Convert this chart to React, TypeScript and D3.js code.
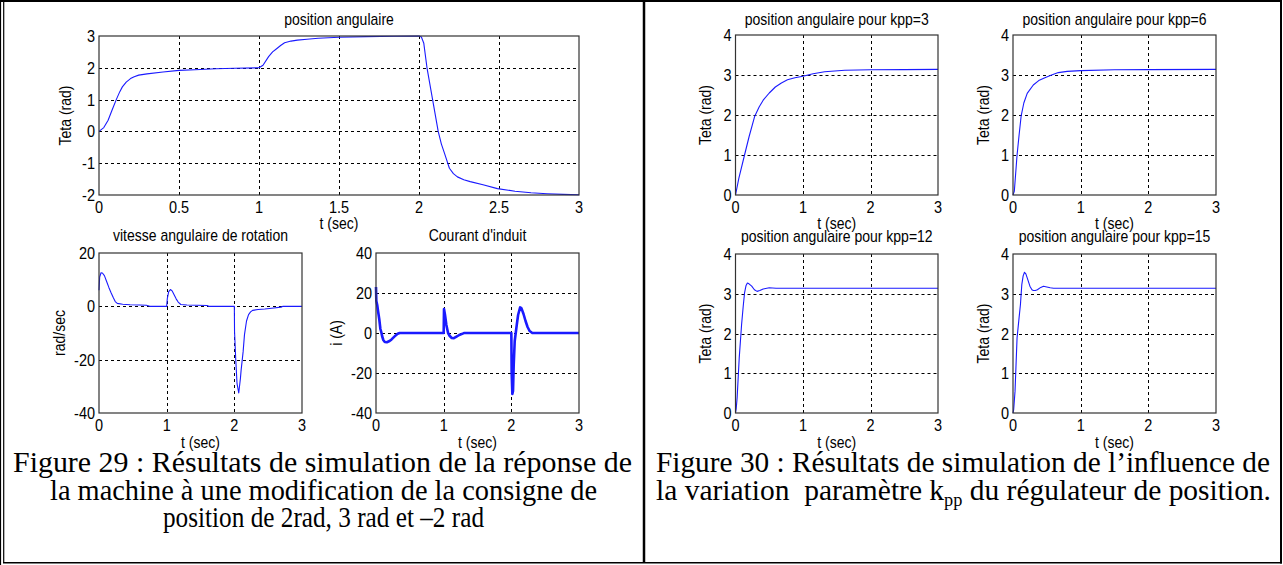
import React from 'react';
import * as d3 from 'd3';

const W = 1283;
const H = 565;

// ---- Figure 29 data ----
const posT = [0, 0.03, 0.057, 0.08, 0.108, 0.13, 0.146, 0.17, 0.197, 0.22, 0.248, 0.3, 0.4, 0.5, 0.6, 0.73, 0.85, 1.0, 1.025, 1.06, 1.085, 1.11, 1.135, 1.16, 1.2, 1.24, 1.3, 1.37, 1.5, 1.67, 1.85, 2.0, 2.015, 2.03, 2.05, 2.085, 2.12, 2.14, 2.16, 2.19, 2.215, 2.24, 2.28, 2.32, 2.4, 2.49, 2.6, 2.7, 2.8, 2.9, 3.0];
const posY = [0, 0.12, 0.35, 0.65, 1.0, 1.25, 1.4, 1.55, 1.66, 1.72, 1.77, 1.81, 1.87, 1.92, 1.94, 1.97, 1.985, 2.0, 2.08, 2.35, 2.5, 2.6, 2.7, 2.79, 2.84, 2.87, 2.9, 2.93, 2.96, 2.98, 2.99, 3.0, 2.97, 2.77, 2.0, 1.0, 0.0, -0.4, -0.7, -1.16, -1.33, -1.43, -1.52, -1.58, -1.68, -1.8, -1.88, -1.93, -1.96, -1.98, -1.99];

const speedT = [0, 0.01, 0.03, 0.05, 0.08, 0.11, 0.147, 0.18, 0.214, 0.24, 0.27, 0.35, 0.46, 0.6, 0.7, 0.75, 1.0, 1.01, 1.03, 1.056, 1.08, 1.11, 1.14, 1.17, 1.21, 1.3, 1.45, 1.6, 1.62, 2.0, 2.003, 2.02, 2.04, 2.065, 2.09, 2.1, 2.13, 2.15, 2.18, 2.21, 2.24, 2.27, 2.35, 2.45, 2.55, 2.69, 2.72, 3.0];
const speedY = [6, 11, 12.6, 12.5, 11.5, 9.5, 7, 5, 3.1, 1.8, 1.1, 0.8, 0.6, 0.5, 0.4, 0, 0, 3, 5.5, 6.3, 5.8, 4.3, 2.8, 1.6, 0.7, 0.5, 0.4, 0.3, 0, 0, -9.4, -19.5, -29, -32.5, -27, -24, -17, -10.6, -5.5, -3.1, -2.1, -1.5, -1.2, -1, -0.7, -0.3, 0, 0];

const currT = [0, 0.005, 0.018, 0.03, 0.048, 0.065, 0.078, 0.09, 0.108, 0.13, 0.16, 0.2, 0.23, 0.26, 0.29, 0.32, 0.35, 1.0, 1.005, 1.02, 1.04, 1.065, 1.09, 1.12, 1.15, 1.19, 1.23, 1.29, 1.3, 2.0, 2.005, 2.015, 2.025, 2.035, 2.05, 2.065, 2.08, 2.1, 2.13, 2.15, 2.18, 2.21, 2.24, 2.27, 2.31, 3.0];
const currY = [23, 16, 14, 11, 7, 2, 0.5, -1.5, -3.5, -4.5, -4.6, -4.0, -3.2, -2.2, -1.2, -0.4, 0, 0, 12, 9, 4, 0, -1.5, -2.5, -2.6, -1.8, -1, -0.2, 0, 0, -20, -30.5, -29, -16, -4, 0, 4, 9, 12.8, 12.3, 9.5, 6, 3, 1, 0, 0];

// ---- Figure 30 data ----
const kpp3T = [0, 0.05, 0.134, 0.2, 0.285, 0.35, 0.41, 0.5, 0.59, 0.68, 0.77, 0.88, 1.0, 1.15, 1.32, 1.62, 2.0, 2.5, 3.0];
const kpp3Y = [0, 0.42, 1.0, 1.45, 1.97, 2.2, 2.37, 2.55, 2.7, 2.8, 2.88, 2.93, 2.97, 3.03, 3.08, 3.12, 3.13, 3.135, 3.14];

const kpp6T = [0, 0.02, 0.06, 0.09, 0.12, 0.16, 0.21, 0.3, 0.38, 0.48, 0.57, 0.67, 0.8, 1.0, 1.5, 2.0, 3.0];
const kpp6Y = [0, 0.1, 1.0, 1.5, 1.97, 2.3, 2.54, 2.75, 2.86, 2.94, 3.0, 3.06, 3.09, 3.11, 3.13, 3.135, 3.14];

const kpp12T = [0, 0.01, 0.024, 0.055, 0.09, 0.115, 0.134, 0.155, 0.176, 0.2, 0.24, 0.28, 0.32, 0.36, 0.41, 0.5, 0.6, 3.0];
const kpp12Y = [0, 0.1, 0.38, 1.38, 2.22, 2.7, 3.02, 3.2, 3.27, 3.25, 3.19, 3.1, 3.06, 3.08, 3.12, 3.15, 3.14, 3.14];

const kpp15T = [0, 0.01, 0.03, 0.06, 0.09, 0.11, 0.13, 0.15, 0.17, 0.19, 0.21, 0.25, 0.28, 0.3, 0.33, 0.36, 0.41, 0.45, 0.5, 0.55, 0.6, 3.0];
const kpp15Y = [0, 0.08, 0.55, 1.89, 2.4, 2.73, 3.23, 3.45, 3.54, 3.5, 3.4, 3.19, 3.1, 3.08, 3.08, 3.1, 3.16, 3.19, 3.17, 3.15, 3.14, 3.14];

// ---- ticks ----
const xTicksHalf = [0, 0.5, 1, 1.5, 2, 2.5, 3];
const xTicksUnit = [0, 1, 2, 3];
const posYTicks = [-2, -1, 0, 1, 2, 3];
const speedYTicks = [-40, -20, 0, 20];
const currYTicks = [-40, -20, 0, 20, 40];
const tetaYTicks = [0, 1, 2, 3, 4];

const SANS = "'Liberation Sans', Arial, Helvetica, sans-serif";
const SERIF = "'Liberation Serif', 'Times New Roman', Times, serif";
const SY = 1.15;

function STxt(props: { x: number; y: number; size: number; anchor?: string; rotate?: boolean; dy?: string; children: React.ReactNode }) {
  const { x, y, size, anchor = 'middle', rotate = false, dy, children } = props;
  const tr = `translate(${x},${y})${rotate ? ' rotate(-90)' : ''} scale(1,${SY})`;
  return (
    <text transform={tr} textAnchor={anchor} fontSize={size} fontFamily={SANS} fill="#000" dy={dy}>
      {children}
    </text>
  );
}

interface PanelProps {
  l: number; t: number; r: number; b: number;
  xTicks: number[]; yTicks: number[];
  title: string; titleY: number;
  yLabel: string; yLabelX: number;
  xLabelY: number;
  ts: number[]; ys: number[];
  sw?: number;
}

function Panel(p: PanelProps) {
  const xs = d3.scaleLinear().domain([0, 3]).range([p.l, p.r]);
  const yDom = d3.extent(p.yTicks) as [number, number];
  const ysc = d3.scaleLinear().domain(yDom).range([p.b, p.t]);
  const line = d3.line<number>().x((v) => xs(v)).y((_, i) => ysc(p.ys[i]));
  const path = line(p.ts) || '';
  const cx = (p.l + p.r) / 2;
  const cy = (p.t + p.b) / 2;
  const fmt = (v: number) => (v < 0 ? '-' + String(-v) : String(v));
  return (
    <g>
      <rect x={p.l} y={p.t} width={p.r - p.l} height={p.b - p.t} fill="#fff" />
      {p.xTicks.filter((v) => v > 0 && v < 3).map((v) => (
        <line key={'gx' + v} x1={Math.round(xs(v)) + 0.5} x2={Math.round(xs(v)) + 0.5} y1={p.t} y2={p.b} stroke="#000" strokeWidth={1} strokeDasharray="3,3" />
      ))}
      {p.yTicks.filter((v) => v > yDom[0] && v < yDom[1]).map((v) => (
        <line key={'gy' + v} x1={p.l} x2={p.r} y1={Math.round(ysc(v)) + 0.5} y2={Math.round(ysc(v)) + 0.5} stroke="#000" strokeWidth={1} strokeDasharray="3,3" />
      ))}
      <path d={path} fill="none" stroke="#1a1aff" strokeWidth={p.sw ?? 1.1} strokeLinejoin="round" />
      <rect x={p.l} y={p.t} width={p.r - p.l} height={p.b - p.t} fill="none" stroke="#333" strokeWidth={1.2} />
      {p.xTicks.map((v) => (
        <STxt key={'xl' + v} x={xs(v)} y={p.b + 18} size={14.5}>{fmt(v)}</STxt>
      ))}
      {p.yTicks.map((v) => (
        <STxt key={'yl' + v} x={p.l - 4} y={ysc(v)} size={14.5} anchor="end" dy="0.36em">{fmt(v)}</STxt>
      ))}
      <STxt x={cx} y={p.titleY} size={14}>{p.title}</STxt>
      <STxt x={cx} y={p.xLabelY} size={14}>t (sec)</STxt>
      <STxt x={p.yLabelX} y={cy} size={14} rotate>{p.yLabel}</STxt>
    </g>
  );
}

export default function App() {
  return (
    <div style={{ position: 'absolute', left: 0, top: 0, width: W, height: H, background: '#fff' }}>
      <svg width={W} height={H} viewBox={`0 0 ${W} ${H}`} style={{ display: 'block' }}>
        <rect x={0} y={0} width={W} height={H} fill="#fff" />
        {/* Figure 29 */}
        <Panel l={99} t={36} r={579} b={195} xTicks={xTicksHalf} yTicks={posYTicks} title="position angulaire" titleY={25} yLabel="Teta (rad)" yLabelX={71} xLabelY={229} ts={posT} ys={posY} />
        <Panel l={99} t={253} r={302} b={413} xTicks={xTicksUnit} yTicks={speedYTicks} title="vitesse angulaire de rotation" titleY={241} yLabel="rad/sec" yLabelX={65} xLabelY={448} ts={speedT} ys={speedY} />
        <Panel l={376} t={253} r={579} b={413} xTicks={xTicksUnit} yTicks={currYTicks} title="Courant d'induit" titleY={241} yLabel="i (A)" yLabelX={342} xLabelY={448} ts={currT} ys={currY} sw={2.6} />
        {/* Figure 30 */}
        <Panel l={735.5} t={35} r={938} b={195} xTicks={xTicksUnit} yTicks={tetaYTicks} title="position angulaire pour kpp=3" titleY={25} yLabel="Teta (rad)" yLabelX={711} xLabelY={229} ts={kpp3T} ys={kpp3Y} />
        <Panel l={1013} t={35} r={1216} b={195} xTicks={xTicksUnit} yTicks={tetaYTicks} title="position angulaire pour kpp=6" titleY={25} yLabel="Teta (rad)" yLabelX={989} xLabelY={229} ts={kpp6T} ys={kpp6Y} />
        <Panel l={735.5} t={254} r={938} b={413} xTicks={xTicksUnit} yTicks={tetaYTicks} title="position angulaire pour kpp=12" titleY={242} yLabel="Teta (rad)" yLabelX={711} xLabelY={448} ts={kpp12T} ys={kpp12Y} />
        <Panel l={1013} t={254} r={1216} b={413} xTicks={xTicksUnit} yTicks={tetaYTicks} title="position angulaire pour kpp=15" titleY={242} yLabel="Teta (rad)" yLabelX={989} xLabelY={448} ts={kpp15T} ys={kpp15Y} />

        {/* Captions */}
        <g fontFamily={SERIF} fontSize={29} fill="#000">
          <text x={13} y={472} textLength={619} lengthAdjust="spacingAndGlyphs">Figure 29 : Résultats de simulation de la réponse de</text>
          <text x={50} y={500} textLength={547} lengthAdjust="spacingAndGlyphs">la machine à une modification de la consigne de</text>
          <text x={163} y={527} textLength={321} lengthAdjust="spacingAndGlyphs">position de 2rad, 3 rad et –2 rad</text>
          <text x={656} y={472} textLength={614} lengthAdjust="spacingAndGlyphs">Figure 30 : Résultats de simulation de l’influence de</text>
          <text x={656} y={500} xmlSpace="preserve" style={{ whiteSpace: 'pre' }} textLength={615} lengthAdjust="spacingAndGlyphs">{'la variation  paramètre k'}<tspan fontSize={18} dy={6}>pp</tspan><tspan dy={-6}>{' du régulateur de position.'}</tspan></text>
        </g>

        {/* Frame */}
        <line x1={0.5} y1={0} x2={0.5} y2={H} stroke="#000" strokeWidth={1.2} />
        <line x1={3.7} y1={1} x2={3.7} y2={563} stroke="#000" strokeWidth={1.2} />
        <line x1={0} y1={1} x2={1282} y2={1} stroke="#000" strokeWidth={2} />
        <line x1={644} y1={0} x2={644} y2={563} stroke="#000" strokeWidth={2.5} />
        <line x1={1281} y1={0} x2={1281} y2={563.5} stroke="#000" strokeWidth={2} />
        <line x1={3} y1={562.8} x2={1282} y2={562.8} stroke="#000" strokeWidth={1.5} />
      </svg>
    </div>
  );
}
